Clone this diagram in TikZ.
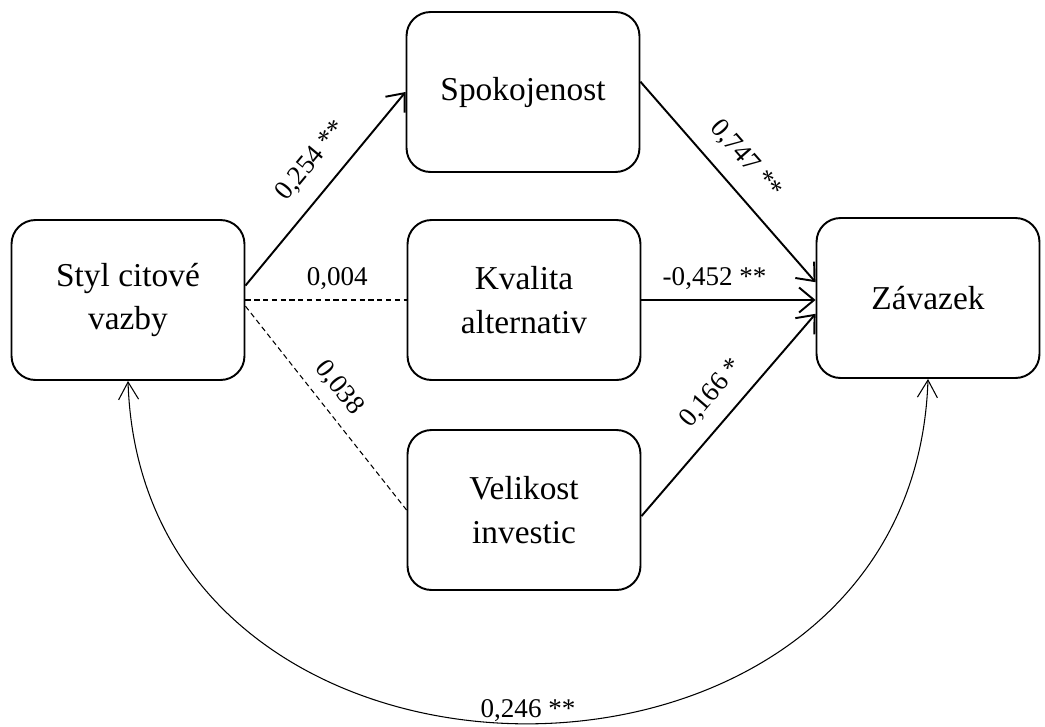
\documentclass[tikz,border=0pt]{standalone}
\usepackage{fontspec}
\setmainfont{Liberation Serif}
\usetikzlibrary{arrows.meta}
\tikzset{%
var/.style={
    rectangle, draw, line width=1.1pt,
    rounded corners=0.48cm,
    minimum width=4.66cm, minimum height=3.2cm,
    align=center, inner sep=0pt,
    font=\fontsize{19}{25}\selectfont
  },
eff/.style={line width=1.1pt, -{Straight Barb[length=3mm,width=5mm]}},
ns/.style={line width=0.6pt, dash pattern=on 3pt off 2pt},
cor/.style={line width=0.6pt,
    {Straight Barb[length=3.5mm,width=4mm]}-{Straight Barb[length=3.5mm,width=4mm]}},
coef/.style={font=\fontsize{15.4}{18}\selectfont}
}

\begin{document}
\begin{tikzpicture}[x=0.02cm, y=-0.02cm]
\useasboundingbox (0,0) rectangle (1045,727);

\node[var] (styl) at (128,300) {Styl citové\\vazby};
\node[var] (spok) at (523,92) {Spokojenost};
\node[var] (kval) at (524,300) {Kvalita\\alternativ};
\node[var] (velo) at (524,510) {Velikost\\investic};
\node[var, minimum width=4.46cm] (zav) at (928,298) {Závazek};

\draw[eff] (styl.7) -- node[coef, sloped, above=6pt, pos=0.55] {0,254 **} (spok.west);
\draw[ns] (styl.east) -- node[coef, above=2pt, pos=0.57] {0,004} (kval.west);
\draw[ns] (styl.357) -- node[coef, sloped, above=3pt, pos=0.47] {0,038} (velo.west);
\draw[eff] (spok.5) -- node[coef, sloped, above=6pt, pos=0.48] {0,747 **} (zav.172);
\draw[eff] (kval.east) -- node[coef, above=2pt, pos=0.42] {-0,452 **} (kval.east -| zav.west);
\draw[eff] (velo.357) -- node[coef, sloped, above=5pt, pos=0.52] {0,166 *} (zav.188);
\draw[cor] (styl.south) .. controls +(15,458) and +(-15,458) ..
    node[coef, above, inner sep=1pt] {0,246 **} (zav.south);
\end{tikzpicture}
\end{document}
